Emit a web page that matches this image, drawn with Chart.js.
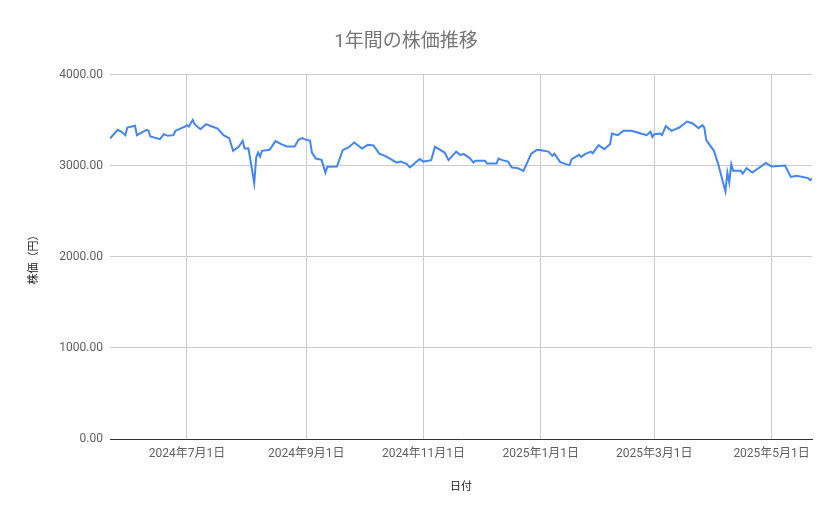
<!DOCTYPE html>
<html lang="ja">
<head>
<meta charset="utf-8">
<title>1年間の株価推移</title>
<script src="https://cdn.jsdelivr.net/npm/chart.js@4.4.1/dist/chart.umd.min.js"></script>
<style>
  body { margin: 0; background: #fff; }
  #wrap { width: 839px; height: 519px; position: relative; }
</style>
</head>
<body>
<div id="wrap"><canvas id="priceChart"></canvas></div>
<script>
// Chart data
const chartTitle = '1年間の株価推移';
const xAxisTitle = '日付';
const yAxisTitle = '株価（円）';

const dates = [
  '2024-05-22', '2024-05-26', '2024-05-28', '2024-05-30', '2024-05-31', '2024-06-04', '2024-06-05',
  '2024-06-10', '2024-06-11', '2024-06-12', '2024-06-17', '2024-06-19', '2024-06-21', '2024-06-24',
  '2024-06-25', '2024-06-27', '2024-06-30', '2024-07-01', '2024-07-02', '2024-07-04', '2024-07-05',
  '2024-07-08', '2024-07-11', '2024-07-14', '2024-07-17', '2024-07-20', '2024-07-23', '2024-07-25',
  '2024-07-28', '2024-07-30', '2024-07-31', '2024-08-02', '2024-08-05', '2024-08-06', '2024-08-07',
  '2024-08-08', '2024-08-09', '2024-08-13', '2024-08-16', '2024-08-19', '2024-08-22', '2024-08-26',
  '2024-08-28', '2024-08-30', '2024-08-31', '2024-09-03', '2024-09-04', '2024-09-06', '2024-09-09',
  '2024-09-11', '2024-09-12', '2024-09-17', '2024-09-20', '2024-09-23', '2024-09-26', '2024-09-30',
  '2024-10-03', '2024-10-06', '2024-10-09', '2024-10-12', '2024-10-15', '2024-10-18', '2024-10-20',
  '2024-10-23', '2024-10-25', '2024-10-27', '2024-10-30', '2024-11-01', '2024-11-05', '2024-11-07',
  '2024-11-12', '2024-11-14', '2024-11-18', '2024-11-20', '2024-11-22', '2024-11-25', '2024-11-27',
  '2024-11-28', '2024-12-03', '2024-12-04', '2024-12-09', '2024-12-10', '2024-12-12', '2024-12-15',
  '2024-12-16', '2024-12-17', '2024-12-20', '2024-12-23', '2024-12-27', '2024-12-30', '2025-01-01',
  '2025-01-05', '2025-01-07', '2025-01-08', '2025-01-11', '2025-01-14', '2025-01-16', '2025-01-17',
  '2025-01-21', '2025-01-22', '2025-01-24', '2025-01-27', '2025-01-28', '2025-01-31', '2025-02-03',
  '2025-02-05', '2025-02-06', '2025-02-07', '2025-02-10', '2025-02-13', '2025-02-17', '2025-02-19',
  '2025-02-22', '2025-02-25', '2025-02-27', '2025-02-28', '2025-03-01', '2025-03-04', '2025-03-05',
  '2025-03-07', '2025-03-10', '2025-03-12', '2025-03-14', '2025-03-18', '2025-03-21', '2025-03-24',
  '2025-03-26', '2025-03-27', '2025-03-28', '2025-04-01', '2025-04-03', '2025-04-07', '2025-04-08',
  '2025-04-09', '2025-04-10', '2025-04-11', '2025-04-15', '2025-04-16', '2025-04-18', '2025-04-21',
  '2025-04-28', '2025-05-01', '2025-05-08', '2025-05-11', '2025-05-14', '2025-05-20', '2025-05-21',
  '2025-05-22'
];

const prices = [
  3300, 3396, 3374, 3337, 3421, 3440, 3337,
  3396, 3385, 3322, 3293, 3348, 3330, 3337,
  3385, 3403, 3432, 3447, 3432, 3505, 3458,
  3403, 3458, 3432, 3410, 3337, 3305, 3165,
  3212, 3275, 3190, 3190, 2810, 3091, 3146,
  3102, 3165, 3176, 3271, 3238, 3212, 3212,
  3286, 3304, 3293, 3275, 3146, 3080, 3066,
  2926, 2989, 2992, 3172, 3202, 3256, 3190,
  3231, 3224, 3135, 3110, 3074, 3036, 3047,
  3025, 2982, 3019, 3074, 3047, 3063, 3209,
  3146, 3063, 3157, 3121, 3129, 3085, 3036,
  3055, 3055, 3025, 3025, 3080, 3063, 3047,
  3008, 2982, 2975, 2945, 3135, 3176, 3172,
  3157, 3110, 3135, 3044, 3019, 3008, 3073,
  3121, 3099, 3128, 3157, 3139, 3227, 3183,
  3220, 3238, 3355, 3337, 3385, 3385, 3374,
  3355, 3337, 3374, 3319, 3348, 3355, 3337,
  3436, 3385, 3403, 3421, 3487, 3465, 3414,
  3447, 3421, 3282, 3165, 3036, 2718, 2926,
  2817, 3019, 2945, 2945, 2915, 2975, 2926,
  3033, 2992, 3003, 2879, 2890, 2865, 2843,
  2860
];

// x axis tick positions (month starts)
const tickDates = ['2024-07-01', '2024-09-01', '2024-11-01', '2025-01-01', '2025-03-01', '2025-05-01'];

// y axis range
const yMin = 0;
const yMax = 4000;
const yStep = 1000;

// Build points for the linear x scale (UTC ms)
const points = dates.map((d, i) => ({ x: Date.parse(d), y: prices[i] }));
const tickValues = tickDates.map(d => Date.parse(d));

function formatDate(ms) {
    const d = new Date(ms);
    return d.getUTCFullYear() + '年' + (d.getUTCMonth() + 1) + '月' + d.getUTCDate() + '日';
}

const fontFamily = "Roboto, 'Noto Sans CJK JP', sans-serif";

const ctx = document.getElementById('priceChart').getContext('2d');
const chart = new Chart(ctx, {
    type: 'line',
    data: {
        datasets: [{
            label: yAxisTitle,
            data: points,
            borderColor: '#4285f4',
            borderWidth: 2,
            pointRadius: 0,
            tension: 0,
            fill: false
        }]
    },
    options: {
        responsive: true,
        maintainAspectRatio: false,
        animation: false,
        layout: {
            padding: { left: 0, right: 27, top: 0, bottom: 0 }
        },
        plugins: {
            legend: { display: false },
            tooltip: { enabled: false },
            title: {
                display: true,
                text: chartTitle,
                color: '#757575',
                font: { family: fontFamily, size: 19, weight: 'normal' },
                padding: { top: 31, bottom: 21 }
            }
        },
        scales: {
            x: {
                type: 'linear',
                min: points[0].x,
                max: points[points.length - 1].x,
                afterBuildTicks: function(scale) {
                    scale.ticks = tickValues.map(v => ({ value: v }));
                },
                afterFit: function(scale) {
                    scale.height = 80;
                },
                grid: {
                    color: '#cccccc',
                    drawTicks: false
                },
                border: { display: true, color: '#333333', width: 1 },
                ticks: {
                    padding: 8,
                    maxRotation: 0,
                    autoSkip: false,
                    color: '#5f5f5f',
                    font: { family: fontFamily, size: 12 },
                    callback: function(value) {
                        return formatDate(value);
                    }
                },
                title: {
                    display: true,
                    text: xAxisTitle,
                    color: '#222222',
                    font: { family: fontFamily, size: 11 },
                    padding: { top: 0, bottom: 25 }
                }
            },
            y: {
                min: yMin,
                max: yMax,
                afterFit: function(scale) {
                    scale.width = 110;
                },
                grid: {
                    color: '#cccccc',
                    drawTicks: false
                },
                border: { display: false },
                ticks: {
                    stepSize: yStep,
                    padding: 7,
                    color: '#5f5f5f',
                    font: { family: fontFamily, size: 12 },
                    callback: function(value) {
                        return value.toFixed(2);
                    }
                },
                title: {
                    display: true,
                    text: yAxisTitle,
                    color: '#222222',
                    font: { family: fontFamily, size: 11 },
                    padding: { top: 28, bottom: 0 }
                }
            }
        }
    }
});
</script>
</body>
</html>
